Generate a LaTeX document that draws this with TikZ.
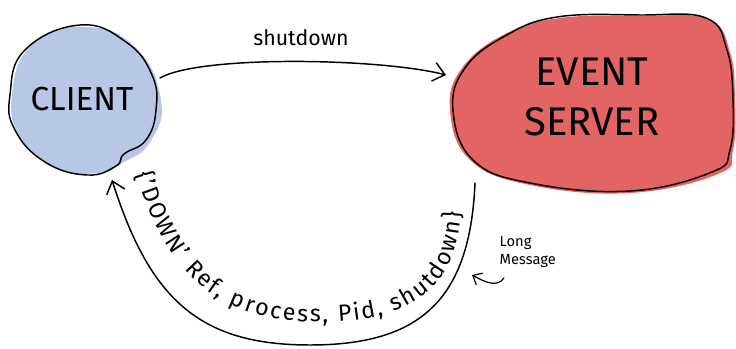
\documentclass[tikz,border=0pt]{standalone}
\usepackage{fontspec}
\setmainfont{Fira Sans}
\usetikzlibrary{arrows.meta,decorations.text}
\definecolor{clientblue}{RGB}{184,199,230}
\definecolor{serverred}{RGB}{226,100,100}
\tikzset{
  blobline/.style={draw=black,line width=1.1pt,line join=round},
  arr/.style={draw=black,line width=1.1pt,line cap=round,-{Straight Barb[length=3mm,width=5mm]}},
  smallarr/.style={draw=black,line width=0.9pt,line cap=round,-{Straight Barb[length=2mm,width=3.5mm]}},
  bigtext/.style={font=\fontsize{30}{36}\selectfont,align=center},
}
\begin{document}
\begin{tikzpicture}[x=0.75pt,y=-0.75pt]
\useasboundingbox (0,0) rectangle (736,349);
% client blob
\fill[clientblue] plot[smooth cycle,tension=0.8] coordinates
  {(84,27) (135,47) (161,100) (150,142) (124,162) (98,173) (58,168) (22,140) (12,95) (32,45)};
\draw[blobline] plot[smooth cycle,tension=0.75] coordinates
  {(80,25) (126,42) (152,75) (156,110) (146,140) (124,154) (116,166) (87,175) (45,162) (15,130) (10,95) (25,50)};
\node[bigtext,font=\fontsize{25}{30}\selectfont] (client) at (82,99) {CLIENT};
% server blob
\fill[serverred] plot[smooth cycle,tension=0.7] coordinates
  {(560,18) (640,16) (708,19) (730,52) (735,100) (733,150) (718,174) (630,193) (530,185) (470,160) (450,110) (462,68) (505,34)};
\draw[blobline] plot[smooth cycle,tension=0.7] coordinates
  {(557,17) (640,15) (706,18) (727,50) (733,100) (730,150) (712,172) (630,191) (530,183) (473,160) (453,110) (465,68) (505,36)};
\node[bigtext] (server) at (592,97) {EVENT\\[2pt]SERVER};
% top arrow
\coordinate (c1) at (160,78);
\coordinate (s1) at (446,75);
\draw[arr] (c1) .. controls (200,55) and (380,58) .. (s1);
\node[font=\fontsize{16}{19}\selectfont] (shut) at (301,38) {shutdown};
% bottom arrow
\coordinate (s2) at (475,183);
\coordinate (mid) at (310,345);
\coordinate (c2) at (112,180);
\draw[arr] (s2) .. controls (470,300) and (420,345) .. (mid) .. controls (200,345) and (150,300) .. (c2);
% curved label
\path[decorate,decoration={text along path,text align=fit to path,
  text={|\fontsize{17.5}{20}\selectfont|{\textbraceleft}'DOWN' Ref, process, Pid, shutdown{\textbraceright}}}]
  (136,174) .. controls (170,286) and (228,322) .. (322,322) .. controls (420,322) and (458,280) .. (461,212);
% long message
\node[font=\fontsize{11}{13}\selectfont,align=left,anchor=north west] (lm) at (495,232) {Long\\Message};
\coordinate (la) at (504,278);
\coordinate (lb) at (472,275);
\draw[smallarr] (la) .. controls (497,288) and (485,282) .. (lb);
\end{tikzpicture}
\end{document}
